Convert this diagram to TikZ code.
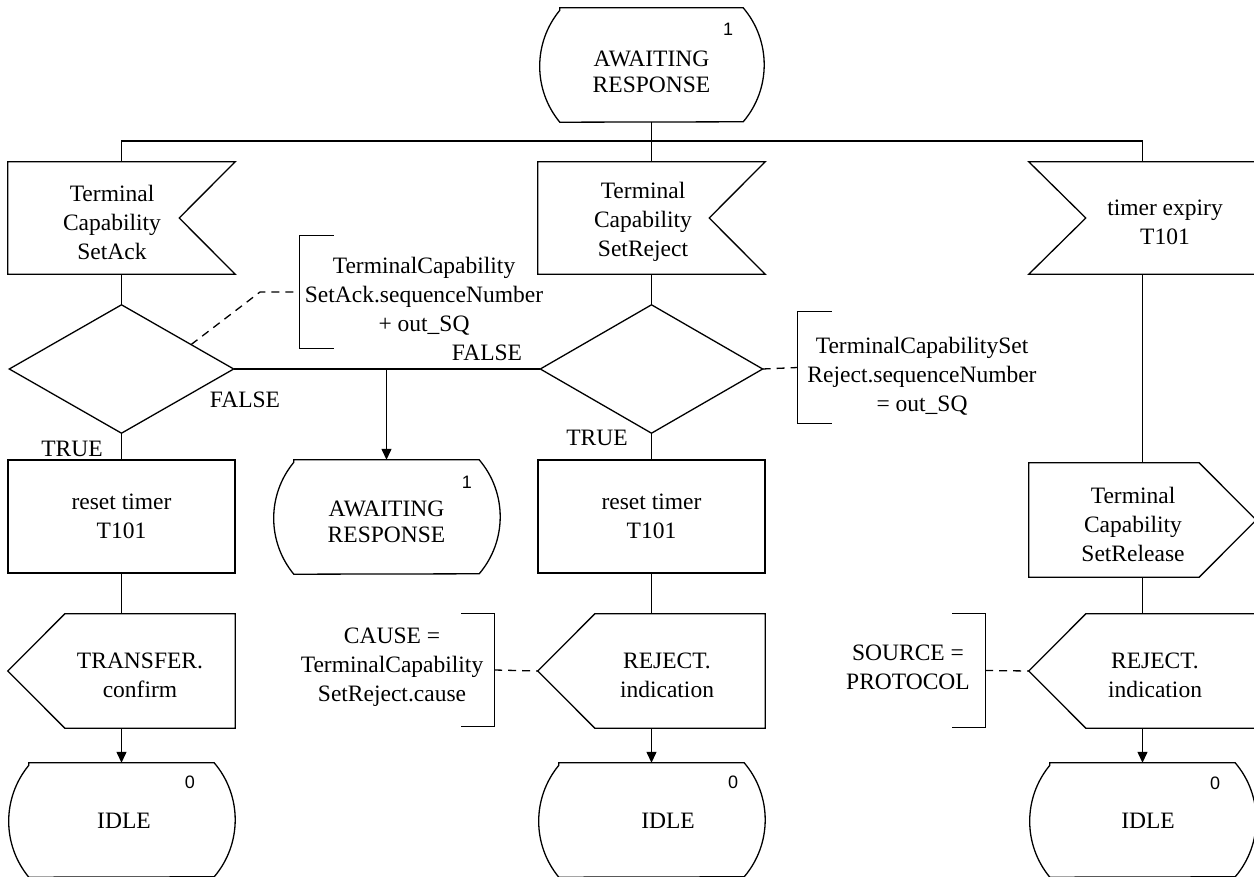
\documentclass[tikz,border=0pt]{standalone}
\usepackage{fontspec}
\setmainfont{Liberation Serif}
\newfontfamily\numfont{Liberation Sans}
\usetikzlibrary{arrows.meta,calc}
\newcommand\stateshape[1]{\draw[ln] ([xshift=21pt]#1.north west) -- ([xshift=-21pt]#1.north east) arc[start angle=40.45,end angle=-40.45,radius=87.86pt] -- ([xshift=21pt]#1.south west) arc[start angle=219.55,end angle=140.45,radius=87.86pt] -- cycle;}
\newcommand\inputR[1]{\draw[ln] (#1.north west) -- (#1.north east) -- ([xshift=-56pt]#1.east) -- (#1.south east) -- (#1.south west) -- cycle;}
\newcommand\inputL[1]{\draw[ln] (#1.north west) -- (#1.north east) -- (#1.south east) -- (#1.south west) -- ([xshift=57pt]#1.west) -- cycle;}
\newcommand\outputL[1]{\draw[ln] ([xshift=57pt]#1.north west) -- (#1.north east) -- (#1.south east) -- ([xshift=57pt]#1.south west) -- (#1.west) -- cycle;}
\newcommand\outputR[1]{\draw[ln] (#1.north west) -- ([xshift=-57pt]#1.north east) -- (#1.east) -- ([xshift=-57pt]#1.south east) -- (#1.south west) -- cycle;}
\newcommand\decisionshape[1]{\draw[ln] (#1.north) -- (#1.east) -- (#1.south) -- (#1.west) -- cycle;}
\newcommand\bracketL[1]{\draw[ln] ([xshift=34pt]#1.north west) -- (#1.north west) -- (#1.south west) -- ([xshift=34pt]#1.south west);}
\newcommand\bracketR[1]{\draw[ln] ([xshift=-33pt]#1.north east) -- (#1.north east) -- (#1.south east) -- ([xshift=-33pt]#1.south east);}
\tikzset{
  ln/.style={line width=1.3pt},
  shp/.style={inner sep=0pt, minimum width=227pt, minimum height=113pt},
  stshp/.style={inner sep=0pt, minimum width=227pt, minimum height=114pt},
  dshp/.style={inner sep=0pt, minimum width=224pt, minimum height=128pt},
  cbox/.style={inner sep=0pt, minimum width=100pt, minimum height=112pt},
  txt/.style={inner sep=0pt, align=center, font=\fontsize{23.5}{29}\selectfont},
  stxt/.style={inner sep=0pt, align=center, font=\fontsize{23.5}{26}\selectfont},
  num/.style={inner sep=0pt, font=\numfont\fontsize{18}{18}\selectfont},
  cmtline/.style={line width=1.3pt, dash pattern=on 8pt off 6pt},
  arr/.style={ln, -{Triangle[length=11pt,width=10pt]}}
}
\begin{document}
\begin{tikzpicture}[x=1pt,y=1pt]
\useasboundingbox (0,0) rectangle (1254,-877);
\clip (0,0) rectangle (1254,-877);
% top state
\node[stshp, minimum width=225pt] (s0) at (651.5,-65) {};
\stateshape{s0}
\node[stxt] (s0t) at (651.5,-72) {AWAITING\\RESPONSE};
\node[num] (s0n) at (728,-29) {1};
% inputs
\node[shp, minimum height=112pt] (in1) at (121.5,-218) {};
\inputR{in1}
\node[txt] (in1t) at (112,-222) {Terminal\\Capability\\SetAck};
\node[shp, minimum height=112pt] (in2) at (651.5,-218) {};
\inputR{in2}
\node[txt] (in2t) at (643,-222) {Terminal\\Capability\\SetReject};
\node[shp, minimum height=112pt] (in3) at (1142.5,-218) {};
\inputL{in3}
\node[txt] (in3t) at (1165,-222) {timer expiry\\T101};
% decisions
\node[dshp] (dec1) at (121.5,-369) {};
\decisionshape{dec1}
\node[dshp, minimum width=222pt] (dec2) at (651.5,-369) {};
\decisionshape{dec2}
% comments on decisions
\node[cbox] (cm1) at (350,-292) {};
\bracketL{cm1}
\node[txt] (cm1t) at (424,-296) {TerminalCapability\\SetAck.sequenceNumber\\+ out\_SQ};
\node[cbox, minimum height=111pt] (cm2) at (848,-367.5) {};
\bracketL{cm2}
\node[txt] (cm2t) at (922,-376) {TerminalCapabilitySet\\Reject.sequenceNumber\\= out\_SQ};
% tasks
\node[shp, draw, ln] (task1) at (121.5,-516.5) {};
\node[txt] (task1t) at (121.5,-516) {reset timer\\T101};
\node[shp, draw, ln] (task2) at (651.5,-516.5) {};
\node[txt] (task2t) at (651.5,-516) {reset timer\\T101};
% middle state
\node[stshp] (s1) at (386.5,-517) {};
\stateshape{s1}
\node[stxt] (s1t) at (386.5,-522) {AWAITING\\RESPONSE};
\node[num] (s1n) at (467,-482) {1};
% outputs
\node[stshp] (out1) at (121.5,-671) {};
\outputL{out1}
\node[txt] (out1t) at (140,-675) {TRANSFER.\\confirm};
\node[stshp] (out2) at (651.5,-671) {};
\outputL{out2}
\node[txt] (out2t) at (667,-675) {REJECT.\\indication};
\node[stshp] (out3a) at (1142.5,-520) {};
\outputR{out3a}
\node[txt] (out3at) at (1133,-524) {Terminal\\Capability\\SetRelease};
\node[stshp] (out3b) at (1142.5,-671) {};
\outputL{out3b}
\node[txt] (out3bt) at (1155,-675) {REJECT.\\indication};
% comments on outputs
\node[cbox] (cm3) at (444,-670) {};
\bracketR{cm3}
\node[txt] (cm3t) at (392,-667) {CAUSE =\\TerminalCapability\\SetReject.cause};
\node[cbox, minimum height=113pt] (cm4) at (935,-670.5) {};
\bracketR{cm4}
\node[txt] (cm4t) at (908,-667) {SOURCE =\\PROTOCOL};
% final states
\node[stshp] (idle1) at (121.5,-820) {};
\stateshape{idle1}
\node[stxt] (idle1t) at (124,-821) {IDLE};
\node[num] (idle1n) at (190,-782) {0};
\node[stshp] (idle2) at (651.5,-820) {};
\stateshape{idle2}
\node[stxt] (idle2t) at (668,-821) {IDLE};
\node[num] (idle2n) at (733,-782) {0};
\node[stshp] (idle3) at (1142.5,-820) {};
\stateshape{idle3}
\node[stxt] (idle3t) at (1148,-821) {IDLE};
\node[num] (idle3n) at (1215,-783) {0};
% labels
\node[txt] (f1) at (245,-400) {FALSE};
\node[txt] (f2) at (487,-353) {FALSE};
\node[txt] (t1) at (72,-449) {TRUE};
\node[txt] (t2) at (597,-438) {TRUE};
% connectors
\coordinate (j0) at (651.5,-141);
\draw[ln] (s0.south) -- (in2.north);
\draw[ln] (in1.north) |- (j0) -| (in3.north);
\draw[ln] (in1.south) -- (dec1.north);
\draw[ln] (in2.south) -- (dec2.north);
\draw[ln] (in3.south) -- (out3a.north);
\draw[ln] (dec1.south) -- (task1.north);
\draw[ln] (dec2.south) -- (task2.north);
\draw[ln] (dec1.east) -- (dec2.west);
\draw[arr] (s1.north |- dec1.east) -- (s1.north);
\draw[ln] (task1.south) -- (out1.north);
\draw[ln] (task2.south) -- (out2.north);
\draw[ln] (out3a.south) -- (out3b.north);
\draw[arr] (out1.south) -- (idle1.north);
\draw[arr] (out2.south) -- (idle2.north);
\draw[arr] (out3b.south) -- (idle3.north);
% comment links
\coordinate (d1p) at ($(dec1.north)!0.62!(dec1.east)$);
\coordinate (d1k) at (260,-292);
\draw[cmtline] (d1p) -- (d1k) -- (cm1.west);
\draw[cmtline] (dec2.east) -- (cm2.west);
\draw[cmtline] (cm3.east) -- (out2.west);
\draw[cmtline] (cm4.east) -- (out3b.west);
\end{tikzpicture}
\end{document}
